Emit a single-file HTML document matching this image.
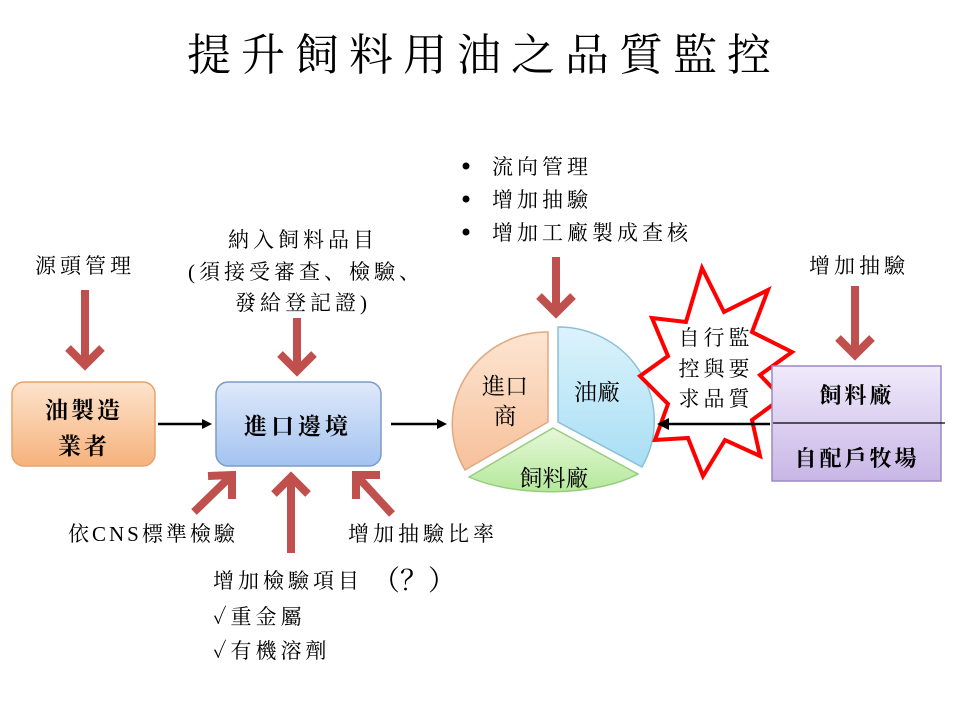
<!DOCTYPE html>
<html><head><meta charset="utf-8"><style>
html,body{margin:0;padding:0;background:#fff;width:960px;height:720px;overflow:hidden}
svg{display:block}
text{font-family:"Liberation Serif","Noto Serif CJK SC","Noto Serif CJK TC",serif;fill:#000}
</style></head><body>
<svg width="960" height="720" viewBox="0 0 960 720" xmlns="http://www.w3.org/2000/svg">
<defs>
<linearGradient id="gOr" x1="0" y1="0" x2="0" y2="1"><stop offset="0" stop-color="#fde3cc"/><stop offset="1" stop-color="#f6b27c"/></linearGradient>
<linearGradient id="gBl" x1="0" y1="0" x2="0" y2="1"><stop offset="0" stop-color="#dfe9fa"/><stop offset="1" stop-color="#a3c3f0"/></linearGradient>
<linearGradient id="gPu" x1="0" y1="0" x2="0" y2="1"><stop offset="0" stop-color="#f0eafa"/><stop offset="1" stop-color="#c8b6e6"/></linearGradient>
<linearGradient id="gPb" x1="0" y1="0" x2="0" y2="1"><stop offset="0" stop-color="#dcf3fc"/><stop offset="1" stop-color="#a8def4"/></linearGradient>
<linearGradient id="gPo" x1="0" y1="0" x2="0" y2="1"><stop offset="0" stop-color="#fde5d2"/><stop offset="1" stop-color="#f7c09a"/></linearGradient>
<linearGradient id="gPg" x1="0" y1="0" x2="0" y2="1"><stop offset="0" stop-color="#e6f8d8"/><stop offset="1" stop-color="#b4e89a"/></linearGradient>
</defs>

<text x="484" y="70" font-size="44" text-anchor="middle" letter-spacing="10">提升飼料用油之品質監控</text>

<g font-size="21" letter-spacing="4">
<circle cx="466" cy="166" r="3.5" fill="#000"/><text x="492" y="174">流向管理</text>
<circle cx="466" cy="199" r="3.5" fill="#000"/><text x="492" y="207">增加抽驗</text>
<circle cx="466" cy="232" r="3.5" fill="#000"/><text x="492" y="240">增加工廠製成查核</text>
<text x="85" y="273" text-anchor="middle">源頭管理</text>
<text x="303" y="247" text-anchor="middle">納入飼料品目</text>
<text x="306" y="279" text-anchor="middle">(須接受審查、檢驗、</text>
<text x="303" y="310" text-anchor="middle">發給登記證)</text>
<text x="859" y="273" text-anchor="middle">增加抽驗</text>
<text x="68" y="541" letter-spacing="3">依CNS標準檢驗</text>
<text x="348" y="541">增加抽驗比率</text>
<text x="213" y="588">增加檢驗項目</text><text x="372" y="590" font-size="28" letter-spacing="0">（？）</text>
<text x="213" y="624">✓重金屬</text>
<text x="213" y="658">✓有機溶劑</text>
</g>

<g stroke="#c0504d" stroke-width="8" fill="none" stroke-linejoin="miter">
<line x1="85" y1="290" x2="85" y2="364"/><polyline points="68,348 85,365 102,348"/>
<line x1="297" y1="318" x2="297" y2="370"/><polyline points="280,354 297,371 314,354"/>
<line x1="556" y1="257" x2="556" y2="312"/><polyline points="539,296 556,313 573,296"/>
<line x1="855" y1="286" x2="855" y2="354"/><polyline points="838,338 855,355 872,338"/>
<line x1="291" y1="553" x2="291" y2="478"/><polyline points="274,494 291,477 308,494"/>
<line x1="194" y1="512" x2="231" y2="476"/><polyline points="208,476 232,475 232,499"/>
<line x1="392" y1="514" x2="357" y2="476"/><polyline points="356,499 356,475 380,475"/>
</g>

<rect x="12" y="382" width="143" height="84" rx="12" fill="url(#gOr)" stroke="#e3a46e" stroke-width="1.5"/>
<text x="84" y="418" font-size="23" font-weight="bold" text-anchor="middle" letter-spacing="3">油製造</text>
<text x="84" y="454" font-size="23" font-weight="bold" text-anchor="middle" letter-spacing="3">業者</text>
<rect x="216" y="382" width="165" height="84" rx="12" fill="url(#gBl)" stroke="#7b9cc8" stroke-width="1.5"/>
<text x="298" y="434" font-size="23" font-weight="bold" text-anchor="middle" letter-spacing="4">進口邊境</text>

<g stroke="#000" stroke-width="2.5"><line x1="158" y1="424" x2="205" y2="424"/><line x1="391" y1="424" x2="440" y2="424"/></g>
<polygon points="212,424 202,419 202,429" fill="#000"/>
<polygon points="447,424 437,419 437,429" fill="#000"/>

<path d="M558,422 L558,327 A96,94 0 0 1 642,467 Z" fill="url(#gPb)" stroke="#8cc0d8" stroke-width="1.5"/>
<path d="M548,422 L465,470 A95,92 0 0 1 548,332 Z" fill="url(#gPo)" stroke="#e0a880" stroke-width="1.5"/>
<path d="M553,428 L638,474 A110,45 0 0 1 469,477 Z" fill="url(#gPg)" stroke="#98cc80" stroke-width="1.5"/>
<text x="505" y="394" font-size="23" text-anchor="middle">進口</text>
<text x="505" y="424" font-size="23" text-anchor="middle">商</text>
<text x="597" y="400" font-size="23" text-anchor="middle">油廠</text>
<text x="554" y="486" font-size="23" text-anchor="middle">飼料廠</text>

<polygon points="702,268 724,312 768,290 752,332 792,352 760,375 782,398 752,420 760,456 725,440 703,476 688,438 655,440 668,404 640,376 668,356 652,318 686,322" fill="#fff" stroke="#ff0000" stroke-width="4" stroke-linejoin="miter"/>
<line x1="667" y1="424" x2="770" y2="424" stroke="#000" stroke-width="2.5"/>
<polygon points="657,424 669,418 669,430" fill="#000"/>
<g font-size="21" text-anchor="middle" letter-spacing="4">
<text x="716" y="345">自行監</text>
<text x="716" y="376">控與要</text>
<text x="716" y="406">求品質</text>
</g>

<rect x="772" y="366" width="169" height="115" fill="url(#gPu)" stroke="#9c88c4" stroke-width="1.5"/>
<line x1="773" y1="423" x2="945" y2="423" stroke="#000" stroke-width="1.2"/>
<text x="857" y="403" font-size="22" font-weight="bold" text-anchor="middle" letter-spacing="3">飼料廠</text>
<text x="857" y="466" font-size="22" font-weight="bold" text-anchor="middle" letter-spacing="3">自配戶牧場</text>
</svg>
</body></html>
